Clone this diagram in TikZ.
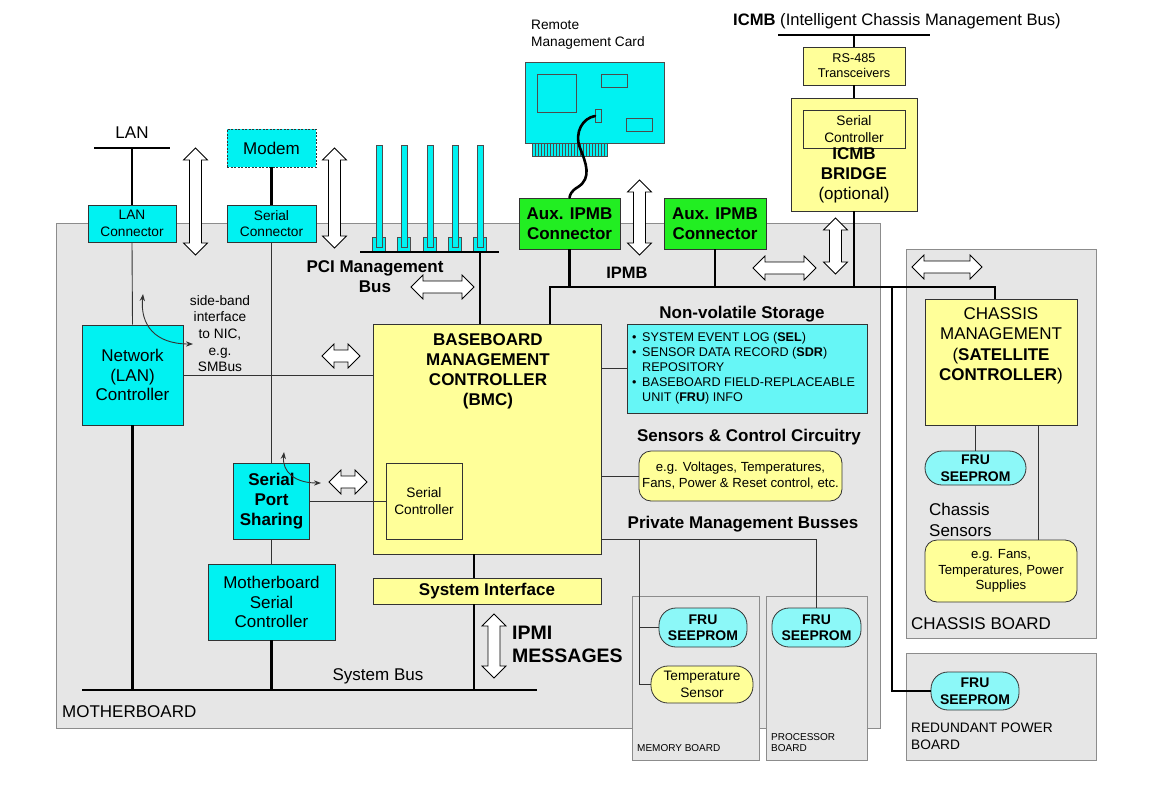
\documentclass[tikz,border=0pt]{standalone}
\usepackage{fontspec}
\setmainfont{Liberation Sans}
\usetikzlibrary{arrows.meta}

\definecolor{boardgray}{HTML}{E6E6E6}
\definecolor{boardline}{HTML}{8C8C8C}
\definecolor{mbcyan}{HTML}{00F2F2}
\definecolor{nvcyan}{HTML}{66F6F6}
\definecolor{frucyan}{HTML}{8CF8F8}
\definecolor{mbyellow}{HTML}{FFFF99}
\definecolor{mbgreen}{HTML}{22EE22}

\tikzset{
  board/.style={draw=boardline, fill=boardgray, line width=0.9},
  blk/.style={draw=black!80, line width=0.8, inner sep=0, align=center},
  cyanbox/.style={blk, fill=mbcyan},
  yellowbox/.style={blk, fill=mbyellow},
  greenbox/.style={blk, fill=mbgreen},
  pill/.style={blk, rounded corners=17, fill=frucyan, font=\fontsize{14}{16.5}\selectfont\bfseries},
  bus/.style={line width=2.6},
  wire/.style={line width=0.9, draw=black!80},
  hollow/.style={draw=black, fill=white, line width=0.8, line join=miter},
  pcislot/.style={draw=black!70, fill=mbcyan, line width=0.6},
  cardline/.style={draw=black!70, line width=0.8},
  txt/.style={inner sep=0, align=center},
  sz10/.style={font=\fontsize{10}{11.5}\selectfont},
  sz12/.style={font=\fontsize{12.7}{15}\selectfont},
  sz13/.style={font=\fontsize{13.7}{16.7}\selectfont},
  sz16/.style={font=\fontsize{17}{19.8}\selectfont},
  bf17/.style={font=\fontsize{17}{20}\selectfont\bfseries},
}

% hollow double arrows: centre x, centre y, length
\newcommand{\hollowh}[3]{%
  \draw[hollow] ({#1-#3/2},#2) -- ++(12,-12) -- ++(0,6) -- ++({#3-24},0)
    -- ++(0,-6) -- ++(12,12) -- ++(-12,12) -- ++(0,-6) -- ++({24-#3},0)
    -- ++(0,6) -- cycle;}
\newcommand{\hollowv}[3]{%
  \draw[hollow] (#1,{#2-#3/2}) -- ++(-12,12) -- ++(6,0) -- ++(0,{#3-24})
    -- ++(-6,0) -- ++(12,12) -- ++(12,-12) -- ++(-6,0) -- ++(0,{24-#3})
    -- ++(6,0) -- cycle;}

\begin{document}
\begin{tikzpicture}[x=1pt, y=-1pt]
  \useasboundingbox (0,0) rectangle (1160,793);

  % boards
  \draw[board] (56,223) rectangle (880,728);
  \draw[board] (632,596) rectangle (759,760);
  \draw[board] (766,596) rectangle (867,760);
  \draw[board] (906,249) rectangle (1096,638);
  \draw[board] (906,653) rectangle (1096,760);
  \node[txt, sz16, anchor=west] (mblabel) at (62,712) {MOTHERBOARD};
  \node[txt, sz10, anchor=west] (memlabel) at (637,748) {MEMORY BOARD};
  \node[txt, sz10, anchor=west, align=left] (proclabel) at (771,742.5) {PROCESSOR\\BOARD};
  \node[txt, sz16, anchor=west] (cblabel) at (911,624) {CHASSIS BOARD};
  \node[txt, sz13, anchor=west, align=left] (rplabel) at (911,736.5) {REDUNDANT POWER\\BOARD};

  % LAN and serial side
  \node[txt, sz16] (lan) at (132,133) {LAN};
  \coordinate (lanl) at (94,148);
  \coordinate (lanr) at (170,148);
  \coordinate (lantap) at (132,148);
  \draw[bus] (lanl) -- (lanr);
  \node[cyanbox, sz13, minimum width=88, minimum height=37] (lanconn) at (132,223.5) {LAN\\Connector};
  \node[cyanbox, dashed, dash pattern=on 2pt off 1.5pt, sz16, minimum width=89, minimum height=38] (modem) at (271.5,148) {Modem};
  \node[cyanbox, sz13, minimum width=89, minimum height=37] (serconn) at (271.5,223.5) {Serial\\Connector};
  \node[cyanbox, sz16, minimum width=101, minimum height=100] (netctrl) at (132.5,375) {Network\\(LAN)\\Controller};
  \node[cyanbox, font=\fontsize{17}{20}\selectfont\bfseries, minimum width=76, minimum height=76] (sps) at (271.5,501) {Serial\\Port\\Sharing};
  \node[cyanbox, sz16, minimum width=127, minimum height=76] (mbsc) at (271.5,602) {Motherboard\\Serial\\Controller};
  \node[txt, sz13] (sideband) at (220,333.5) {side-band\\interface\\to NIC,\\e.g.\\SMBus};

  \draw[bus] (lantap) -- (lanconn.north);
  \draw[bus] (modem.south) -- (serconn.north);
  \draw[wire] (lanconn.south) -- (netctrl.north);
  \draw[wire] (serconn.south) -- (sps.north);
  \draw[wire] (sps.south) -- (mbsc.north);
  \draw[wire, Stealth-Stealth] (143,294) .. controls (140,325) and (155,344) .. (193,344);
  \draw[wire, Stealth-Stealth] (284,452) .. controls (282,472) and (295,483) .. (321,483);
  \hollowv{195.5}{201.5}{107}
  \hollowv{334.5}{198}{100}
  \hollowh{341}{356}{38}
  \hollowh{348}{482}{38}

  % PCI slots and bus
  \foreach \sx in {379,404,430,455,480} {
    \draw[pcislot] ({\sx-6.5},237) rectangle ({\sx+6.5},251);
    \draw[pcislot] ({\sx-3},145) rectangle ({\sx+3},247);
  }
  \coordinate (pcil) at (360,252);
  \coordinate (pcir) at (499,252);
  \coordinate (pcitap) at (480,252);
  \draw[bus] (pcil) -- (pcir);
  \node[txt, bf17] (pcilabel) at (375,277) {PCI Management\\Bus};
  \hollowh{442.5}{287}{63}

  % BMC
  \node[yellowbox, minimum width=228, minimum height=230] (bmc) at (487,439) {};
  \node[txt, bf17, anchor=north] (bmctitle) at (488,333) {BASEBOARD\\MANAGEMENT\\CONTROLLER\\(BMC)};
  \node[yellowbox, sz13, minimum width=76, minimum height=76] (bmcser) at (424,501) {Serial\\Controller};
  \node[yellowbox, bf17, minimum width=228, minimum height=26] (sysif) at (487,591) {System Interface};
  \draw[bus] (pcitap) -- (pcitap |- bmc.north);
  \draw[wire] (netctrl.east) -- (netctrl.east -| bmc.west);
  \draw[wire] (sps.east |- bmcser.west) -- (bmcser.west);

  % system bus
  \coordinate (sbl) at (82,690);
  \coordinate (sbr) at (537,690);
  \coordinate (sifx) at (474,690);
  \draw[bus] (sbl) -- (sbr);
  \node[txt, sz16] (sblabel) at (378,676) {System Bus};
  \draw[bus] (netctrl.south) -- (netctrl.south |- sbl);
  \draw[bus] (mbsc.south) -- (mbsc.south |- sbl);
  \draw[bus] (sifx |- bmc.south) -- (sifx |- sysif.north);
  \draw[bus] (sifx |- sysif.south) -- (sifx);
  \hollowv{494}{646}{64}
  \node[txt, anchor=west, align=left, font=\fontsize{19.5}{23}\selectfont\bfseries] (ipmi) at (512,644) {IPMI\\MESSAGES};

  % remote management card
  \node[txt, sz13, anchor=north west, align=left] (cardlabel) at (531,20) {Remote\\Management Card};
  \draw[cardline, fill=mbcyan] (525,62) rectangle (664,143);
  \draw[cardline] (537,74) rectangle (576,112);
  \draw[cardline] (601,74) rectangle (627,87);
  \draw[cardline] (626,118) rectangle (652,131);
  \draw[cardline] (595,109) rectangle (601,122);
  \draw[cardline, fill=mbcyan] (532,143) rectangle (607,156);
  \foreach \sx in {535,538,...,604}
    \draw[line width=0.5, draw=black!70] (\sx,143) -- (\sx,156);

  % IPMB
  \node[greenbox, bf17, minimum width=101, minimum height=51] (aux1) at (569.5,223.5) {Aux. IPMB\\Connector};
  \node[greenbox, bf17, minimum width=102, minimum height=51] (aux2) at (715,223.5) {Aux. IPMB\\Connector};
  \draw[line width=2.6, line cap=round] (595,116) .. controls (583,118) and (574,132) .. (580,148)
    .. controls (586,163) and (592,178) .. (578,187) .. controls (571,191) and (570,195) .. (aux1.north);
  \hollowv{639.5}{217.5}{75}
  \node[txt, font=\fontsize{16.5}{19.8}\selectfont\bfseries] (ipmblabel) at (627,273) {IPMB};

  % ICMB
  \node[txt, anchor=west, font=\fontsize{16.6}{19}\selectfont] (icmb) at (733,21) {\textbf{ICMB} (Intelligent Chassis Management Bus)};
  \coordinate (icmbl) at (778,35);
  \coordinate (icmbr) at (930,35);
  \draw[bus] (icmbl) -- (icmbr);
  \node[yellowbox, sz12, minimum width=102, minimum height=38] (rs485) at (854,66) {RS-485\\Transceivers};
  \node[yellowbox, minimum width=126, minimum height=113] (bridge) at (854,154.5) {};
  \node[yellowbox, sz13, minimum width=102, minimum height=38] (bridgeser) at (854,129) {Serial\\Controller};
  \node[txt, font=\fontsize{17}{20}\selectfont] (bridgetext) at (854,175) {\textbf{ICMB}\\\textbf{BRIDGE}\\(optional)};
  \draw[bus] (rs485.north |- icmbl) -- (rs485.north);
  \draw[bus] (rs485.south) -- (bridge.north);
  \hollowv{835.5}{246}{56}
  \hollowh{784.5}{268}{63}
  \hollowh{947}{267}{70}

  % BMC side blocks
  \node[txt, bf17] (nvtitle) at (742,314) {Non-volatile Storage};
  \node[blk, fill=nvcyan, minimum width=240, minimum height=89] (nvstore) at (747,368.5) {};
  \node[txt, anchor=west, align=left, font=\fontsize{12.6}{15}\selectfont] (nvtext) at (632,368.5)
    {\makebox[10pt][l]{•}SYSTEM EVENT LOG (\textbf{SEL})\\
     \makebox[10pt][l]{•}SENSOR DATA RECORD (\textbf{SDR})\\
     \makebox[10pt][l]{}REPOSITORY\\
     \makebox[10pt][l]{•}BASEBOARD FIELD-REPLACEABLE\\
     \makebox[10pt][l]{}UNIT (\textbf{FRU}) INFO};
  \node[txt, bf17] (senstitle) at (749,437) {Sensors \& Control Circuitry};
  \node[yellowbox, rounded corners=12, font=\fontsize{13.2}{16}\selectfont, minimum width=203, minimum height=50] (sensors) at (740.5,476) {e.g. Voltages, Temperatures,\\Fans, Power \& Reset control, etc.};
  \node[txt, bf17] (privtitle) at (743,524) {Private Management Busses};
  \node[pill, minimum width=88, minimum height=39] (memfru) at (703,627.5) {FRU\\SEEPROM};
  \node[pill, fill=mbyellow, font=\fontsize{13.7}{16.7}\selectfont, minimum width=102, minimum height=37] (temp) at (702,684.5) {Temperature\\Sensor};
  \node[pill, minimum width=89, minimum height=39] (procfru) at (816.5,627.5) {FRU\\SEEPROM};
  \draw[wire] (nvstore.west -| bmc.east) -- (nvstore.west);
  \draw[wire] (sensors.west -| bmc.east) -- (sensors.west);
  \coordinate (privy) at (601,539);
  \coordinate (membr) at (639,539);
  \draw[wire] (privy) -- (privy -| procfru.north) -- (procfru.north);
  \draw[wire] (membr) -- (membr |- temp.west) -- (temp.west);
  \draw[wire] (membr |- memfru.west) -- (memfru.west);

  % chassis
  \node[yellowbox, minimum width=152, minimum height=126] (cm) at (1001,362) {};
  \node[txt, font=\fontsize{17}{20.5}\selectfont, anchor=north] (cmtext) at (1001,307) {CHASSIS\\MANAGEMENT\\(\textbf{SATELLITE}\\\textbf{CONTROLLER})};
  \node[pill, minimum width=101, minimum height=34] (cmfru) at (975.5,468) {FRU\\SEEPROM};
  \node[txt, anchor=west, align=left, font=\fontsize{17}{21}\selectfont] (chsenslabel) at (929,519.5) {Chassis\\Sensors};
  \node[yellowbox, rounded corners=12, font=\fontsize{13.2}{15.3}\selectfont, minimum width=152, minimum height=62] (chsens) at (1001,571) {e.g. Fans,\\Temperatures, Power\\Supplies};
  \node[pill, minimum width=88, minimum height=38] (rpfru) at (975,691) {FRU\\SEEPROM};
  \coordinate (cmsx) at (1038,425);
  \draw[wire] (cmfru.north |- cm.south) -- (cmfru.north);
  \draw[wire] (cmsx) -- (cmsx |- chsens.north);

  % IPMB bus
  \coordinate (ipmbl) at (550,287);
  \coordinate (ipmbr) at (995,287);
  \coordinate (rptap) at (892,287);
  \draw[bus] (ipmbl |- bmc.north) -- (ipmbl) -- (ipmbr) -- (ipmbr |- cm.north);
  \draw[bus] (aux1.south) -- (aux1.south |- ipmbl);
  \draw[bus] (aux2.south) -- (aux2.south |- ipmbl);
  \draw[bus] (bridge.south) -- (bridge.south |- ipmbl);
  \draw[bus] (rptap) -- (rptap |- rpfru.west) -- (rpfru.west);
\end{tikzpicture}
\end{document}
